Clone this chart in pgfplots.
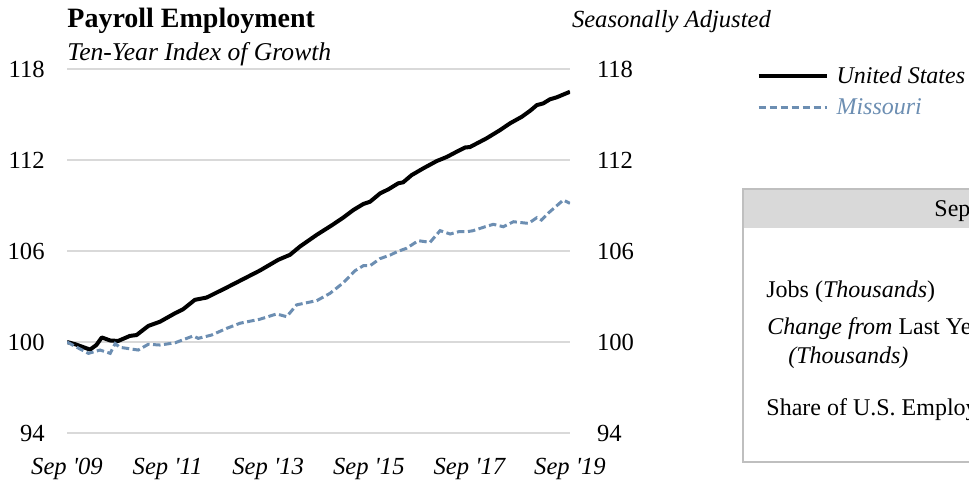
\documentclass[border=0pt]{standalone}
\usepackage{fontspec}
\setmainfont{Liberation Serif}
\usepackage{pgfplots}
\pgfplotsset{compat=1.18}
\usepackage{pgfplotstable}
\definecolor{mblue}{RGB}{108,142,178}
\definecolor{gridgray}{RGB}{217,217,217}
\definecolor{boxgray}{RGB}{191,191,191}
\definecolor{bandgray}{RGB}{217,217,217}
\pgfplotstableread{
m v
0 100
2 99.85
3 99.75
5.5 99.5
7 99.8
8.3 100.3
10.3 100.1
12.2 100.07
15 100.4
16.6 100.46
19.4 101.06
22.2 101.34
25.8 101.9
27.7 102.16
30.5 102.78
33.3 102.93
38.1 103.59
41.7 104.1
46 104.71
50.4 105.42
53.2 105.75
55.6 106.3
59.6 107.07
63.2 107.7
65.9 108.2
68.3 108.7
70.7 109.1
72.3 109.25
74.7 109.8
76.7 110.07
79 110.46
80.2 110.53
82.2 111.0
85 111.45
88.2 111.93
90.6 112.2
93 112.55
95 112.83
96.1 112.85
100.1 113.43
103.3 113.97
105.7 114.42
108.5 114.85
110.5 115.25
112.1 115.62
113.6 115.73
115.2 116.0
116.8 116.13
120 116.5
}\us
\pgfplotstableread{
m v
0 100
2 99.7
5.1 99.25
7.9 99.47
10.3 99.25
11.5 99.9
12.6 99.65
17 99.47
19.4 99.85
22.2 99.8
25.8 99.95
30.1 100.4
31.3 100.24
34.5 100.46
38.1 100.9
41.3 101.24
46 101.5
50 101.85
52.4 101.67
54.8 102.45
59.6 102.73
62.7 103.2
65.9 103.9
68.7 104.7
70.7 105.03
72.3 105.03
74.7 105.5
77.1 105.73
78.7 105.95
81 106.18
83.8 106.68
86.6 106.57
89 107.34
91.4 107.12
93.4 107.27
95.4 107.27
96.9 107.34
99.3 107.56
101.7 107.76
104.1 107.6
106.5 107.93
110.1 107.82
112.1 108.2
113.2 108.04
115.2 108.59
118.4 109.36
120 109.14
}\mo
\begin{document}
\begin{tikzpicture}
\useasboundingbox (0,0) rectangle (484.5pt,241.5pt);
\pgfplotsset{
  base/.style={
    scale only axis, width=251.5pt, height=182pt,
    at={(33.5pt,25pt)}, anchor=south west,
    xmin=0, xmax=120, ymin=94, ymax=118,
    ytick={94,100,106,112,118},
    xtick={0,24,48,72,96,120},
    axis line style={draw=none},
    major tick length=0pt,
    /pgf/number format/assume math mode=true,
    tick label style={font=\fontsize{12.3}{14}\selectfont, inner sep=0pt},
  }
}
\begin{axis}[base,
  ymajorgrids, grid style={gridgray, line width=0.6pt},
  yticklabel style={anchor=east, xshift=-11pt},
  xticklabels={Sep \textquotesingle 09, Sep \textquotesingle 11, Sep \textquotesingle 13, Sep \textquotesingle 15, Sep \textquotesingle 17, Sep \textquotesingle 19},
  xticklabel style={anchor=base, yshift=-20.5pt, font=\fontsize{12.3}{14}\selectfont\itshape},
  legend style={at={(1.370,1.008)}, anchor=north west, draw=none, fill=none,
    inner sep=0pt, row sep=6pt, font=\fontsize{12}{14}\selectfont\itshape,
    nodes={inner sep=0pt}},
  legend cell align=left,
  legend image code/.code={\draw[#1] (0pt,0pt) -- (34pt,0pt);},
  /tikz/every odd column/.append style={column sep=4pt},
]
\addplot[black, line width=2pt, line join=round] table[x=m,y=v]{\us};
\addlegendentry{United States}
\addplot[mblue, line width=1.5pt, dash pattern=on 3.75pt off 1.75pt] table[x=m,y=v]{\mo};
\addlegendentry{\textcolor{mblue}{Missouri}}
\end{axis}
\begin{axis}[base, xticklabels={}, ytick pos=right,
  yticklabel style={anchor=west, xshift=13.3pt}]
\addplot[draw=none] coordinates {(0,100)};
\end{axis}
\node[anchor=base west, inner sep=0pt, font=\fontsize{14}{16}\selectfont\bfseries] at (33.5pt,227.5pt) {Payroll Employment};
\node[anchor=base west, inner sep=0pt, font=\fontsize{12.8}{15}\selectfont\itshape] at (33.5pt,211pt) {Ten-Year Index of Growth};
\node[anchor=base west, inner sep=0pt, font=\fontsize{12.3}{15}\selectfont\itshape] at (285.8pt,227.5pt) {Seasonally Adjusted};
% table box
\fill[bandgray] (371.5pt,147pt) rectangle (500pt,127.75pt);
\draw[boxgray, line width=1.25pt] (500pt,147pt) -- (371.5pt,147pt) -- (371.5pt,10.5pt) -- (500pt,10.5pt);
\begin{scope}[every node/.style={anchor=base west, inner sep=0pt, font=\fontsize{12}{14}\selectfont}]
\node at (467pt,133.5pt) {Sep 2019};
\node at (383pt,93pt) {Jobs (\textit{Thousands})};
\node at (383.5pt,74.5pt) {\textit{Change from} Last Year};
\node at (394pt,60pt) {\textit{(Thousands)}};
\node at (383pt,34pt) {Share of U.S. Employment};
\end{scope}
\end{tikzpicture}
\end{document}
